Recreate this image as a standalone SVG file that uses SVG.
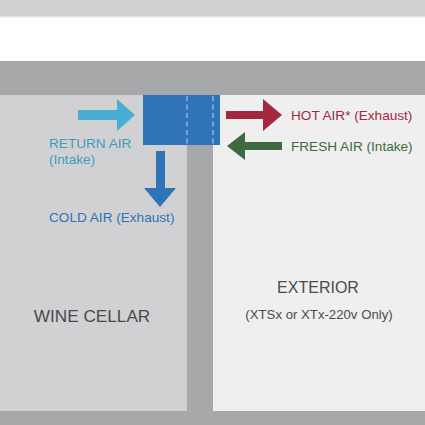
<svg xmlns="http://www.w3.org/2000/svg" width="425" height="425" viewBox="0 0 425 425">
<style>
.lbl{font-family:"Liberation Sans","Open Sans",Arial,sans-serif;font-size:13.6px}
.room{font-family:"Liberation Sans","Open Sans",Arial,sans-serif;fill:#4a4a4c}
</style>
<rect x="0" y="0" width="425" height="425" fill="#ffffff"/>
<rect x="0" y="0" width="425" height="16" fill="#d1d1d3"/>
<rect x="0" y="16" width="425" height="1.5" fill="#e4e4e6"/>
<rect x="0" y="61" width="425" height="34" fill="#a7a8aa"/>
<g id="wine-cellar">
<rect x="0" y="95" width="187" height="316" fill="#d1d1d3"/>
<text class="room" x="92" y="322" font-size="17.2" text-anchor="middle">WINE CELLAR</text>
</g>
<rect x="187" y="95" width="26" height="316" fill="#a7a8aa"/>
<g id="exterior">
<rect x="213" y="95" width="212" height="316" fill="#efefef"/>
<text class="room" x="318" y="293" font-size="16" text-anchor="middle">EXTERIOR</text>
<text class="room" x="319" y="319" font-size="13.2" text-anchor="middle">(XTSx or XTx-220v Only)</text>
</g>
<rect x="0" y="411" width="425" height="14" fill="#a7a8aa"/>
<g id="unit">
<rect x="143" y="95" width="77" height="50" fill="#2e74b6"/>
<line x1="187" y1="96" x2="187" y2="145" stroke="#a8c4e6" stroke-width="1.2" stroke-dasharray="5,3.5"/>
<line x1="213" y1="96" x2="213" y2="145" stroke="#a8c4e6" stroke-width="1.2" stroke-dasharray="5,3.5"/>
</g>
<g id="connectors">
<polygon points="78,110 117,110 117,99 135,115 117,131 117,120 78,120" fill="#4aaed2"/>
<polygon points="156,151 165,151 165,188 176,188 160,207 144,188 156,188" fill="#2e74b6"/>
<polygon points="226,111 263,111 263,99 282,115 263,131 263,119 226,119" fill="#a3283f"/>
<polygon points="282,142 245,142 245,132 227,146 245,160 245,150 282,150" fill="#3d6b3f"/>
</g>
<g id="labels">
<text class="lbl" x="49" y="148" fill="#3f9cc0">RETURN AIR</text>
<text class="lbl" x="49" y="164" fill="#3f9cc0">(Intake)</text>
<text class="lbl" x="49" y="222" fill="#2e74b6" font-size="14.2">COLD AIR (Exhaust)</text>
<text class="lbl" x="291" y="120" fill="#a02a45" font-size="14.2">HOT AIR* (Exhaust)</text>
<text class="lbl" x="291" y="151" fill="#3d6b3f">FRESH AIR (Intake)</text>
</g>
</svg>
